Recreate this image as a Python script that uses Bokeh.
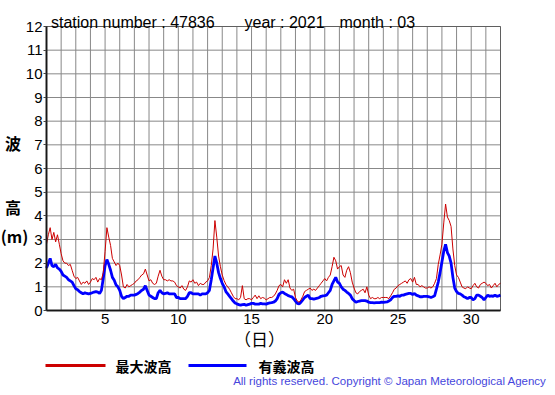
from bokeh.plotting import figure
from bokeh.models import Range1d, FixedTicker, Label, BoxAnnotation
from bokeh.embed import file_html
from bokeh.resources import INLINE

# 3-hourly samples, March 2021, from day 1.0 to day 32.0
steps_per_day = 8
max_wave = [
    2.8, 3.2, 3.5, 3.0, 3.3, 2.9, 3.2, 2.8,
    2.4, 2.1, 2.0, 2.0, 1.9, 1.95, 1.7, 1.45,
    1.35, 1.4, 1.25, 1.1, 1.2, 1.15, 1.25, 1.1,
    1.2, 1.35, 1.3, 1.4, 1.2, 1.35, 1.3, 1.6,
    2.5, 3.5, 3.1, 2.75, 2.2, 2.05, 1.9, 2.0,
    1.9, 1.5, 1.0, 0.95, 1.1, 1.0, 1.05, 1.1,
    1.15, 1.25, 1.3, 1.4, 1.5, 1.55, 1.75, 1.5,
    1.25, 1.3, 1.15, 1.1, 1.15, 1.45, 1.7, 1.45,
    1.3, 1.3, 1.25, 1.3, 1.25, 1.25, 1.2, 1.05,
    1.0, 0.95, 1.05, 0.9, 0.85, 1.0, 1.25, 1.2,
    1.3, 1.15, 1.2, 1.05, 1.15, 1.1, 1.1, 1.2,
    1.25, 1.4, 1.9, 2.6, 3.8, 3.1, 2.3, 1.85,
    1.5, 1.27, 1.1, 1.0, 0.9, 0.75, 0.6, 0.5,
    0.5, 0.45, 0.55, 1.05, 0.5, 0.45, 0.5, 0.5,
    0.45, 0.55, 0.65, 0.5, 0.62, 0.5, 0.55, 0.52,
    0.45, 0.5, 0.55, 0.55, 0.6, 0.7, 0.85, 1.05,
    1.1, 1.0, 1.3, 1.15, 1.3, 0.95, 0.85, 0.9,
    0.55, 0.4, 0.35, 0.45, 0.6, 0.8, 0.85, 0.9,
    0.95, 0.85, 0.9, 0.85, 0.95, 1.05, 1.15, 1.25,
    1.35, 1.25, 1.4, 1.5, 1.85, 2.25, 2.1, 1.75,
    1.85, 1.9, 1.5, 1.4, 1.7, 1.85, 1.6, 1.2,
    0.95, 0.75, 0.7, 0.8, 0.85, 0.9, 0.75, 1.0,
    0.65, 0.5, 0.55, 0.5, 0.5, 0.55, 0.5, 0.55,
    0.55, 0.55, 0.55, 0.5, 0.62, 0.75, 0.9, 0.95,
    1.05, 1.1, 1.15, 1.2, 1.25, 1.15, 1.3, 1.35,
    1.2, 1.4, 1.1, 1.1, 1.0, 1.05, 1.0, 0.95,
    0.95, 1.0, 0.95, 1.0, 1.15, 1.35, 1.95, 2.35,
    2.8, 3.7, 4.5, 3.95, 3.8, 3.55, 2.6, 1.9,
    1.5, 1.4, 1.2, 1.0, 0.95, 0.92, 1.0, 0.95,
    0.92, 1.05, 1.15, 1.0, 0.95, 1.1, 1.15, 1.2,
    1.15, 1.05, 1.1, 0.95, 1.05, 1.15, 1.0, 1.1,
    1.15,
]
sig_wave = [
    1.8, 2.0, 2.2, 1.9, 1.85, 1.95, 1.8, 1.75,
    1.65, 1.5, 1.45, 1.4, 1.3, 1.25, 1.2, 1.05,
    0.92, 0.88, 0.8, 0.75, 0.7, 0.75, 0.72, 0.7,
    0.72, 0.75, 0.78, 0.8, 0.78, 0.72, 0.85, 1.35,
    1.9, 2.15, 1.95, 1.7, 1.4, 1.28, 1.08, 1.0,
    0.85, 0.6, 0.5, 0.55, 0.6, 0.6, 0.65, 0.65,
    0.65, 0.68, 0.72, 0.78, 0.85, 0.9, 1.05, 0.85,
    0.65, 0.6, 0.55, 0.5, 0.5, 0.75, 0.85, 0.75,
    0.7, 0.72, 0.75, 0.7, 0.7, 0.7, 0.7, 0.55,
    0.55, 0.5, 0.5, 0.5, 0.5, 0.6, 0.75, 0.75,
    0.7, 0.7, 0.7, 0.7, 0.65, 0.7, 0.7, 0.7,
    0.75, 0.85, 1.3, 1.8, 2.3, 2.0, 1.6, 1.35,
    1.15, 1.0, 0.8, 0.7, 0.6, 0.5, 0.4, 0.32,
    0.28, 0.25, 0.22, 0.25, 0.26, 0.22, 0.25, 0.27,
    0.3, 0.3, 0.27, 0.27, 0.27, 0.3, 0.28, 0.28,
    0.27, 0.3, 0.32, 0.33, 0.35, 0.4, 0.5, 0.68,
    0.75, 0.78, 0.72, 0.68, 0.63, 0.6, 0.58, 0.5,
    0.4, 0.3, 0.28, 0.35, 0.45, 0.55, 0.6, 0.65,
    0.5, 0.5, 0.48, 0.5, 0.52, 0.55, 0.6, 0.62,
    0.63, 0.65, 0.75, 0.85, 1.1, 1.25, 1.4, 1.2,
    1.15, 1.0, 0.9, 0.85, 0.78, 0.72, 0.65, 0.5,
    0.42, 0.35, 0.38, 0.4, 0.42, 0.42, 0.42, 0.4,
    0.35, 0.33, 0.33, 0.32, 0.33, 0.33, 0.33, 0.35,
    0.34, 0.35, 0.36, 0.4, 0.45, 0.55, 0.6, 0.6,
    0.62, 0.6, 0.65, 0.65, 0.68, 0.7, 0.72, 0.72,
    0.68, 0.72, 0.65, 0.62, 0.58, 0.58, 0.6, 0.6,
    0.6, 0.58, 0.55, 0.58, 0.62, 0.9, 1.2, 1.6,
    2.05, 2.5, 2.8, 2.45, 2.3, 2.0, 1.4, 0.95,
    0.8, 0.72, 0.7, 0.65, 0.58, 0.55, 0.5, 0.55,
    0.55, 0.45, 0.5, 0.65, 0.65, 0.6, 0.55, 0.45,
    0.55, 0.65, 0.6, 0.62, 0.6, 0.65, 0.6, 0.62,
    0.65,
]
x_ticks = [5, 10, 15, 20, 25, 30]
y_ticks = list(range(0, 13))
day_grid = list(range(1, 33))
title_parts = ["station number : 47836", "year : 2021", "month : 03"]
legend_labels = ["最大波高", "有義波高"]
y_label_parts = ["波", "高", "(m)"]
x_label_text = "（日）"
copyright_text = "All rights reserved. Copyright © Japan Meteorological Agency"

times = [1 + i / steps_per_day for i in range(len(max_wave))]

RED = "#cc0000"
BLUE = "#0000ff"
SANS = "Liberation Sans"
CJK = "Noto Sans CJK JP"

# canvas geometry: the plotting frame covers the whole canvas, the chart box
# (day 1..32, 0..12 m) sits inside it, so captions are never clipped
W, H = 547, 387
BOX_L, BOX_R, BOX_T, BOX_B = 46, 500, 26, 310
X0, X1, Y0, Y1 = 1, 32, 0, 12
DX = (BOX_R - BOX_L) / (X1 - X0)
DY = (BOX_B - BOX_T) / (Y1 - Y0)


def dx(px):
    return X0 + (px - BOX_L) / DX


def dy(py):
    return Y0 + (BOX_B - py) / DY


p = figure(width=W, height=H, output_backend="svg", toolbar_location=None,
           x_range=Range1d(dx(0), dx(W)), y_range=Range1d(dy(H), dy(0)),
           min_border=0, min_border_left=0, min_border_right=0,
           min_border_top=0, min_border_bottom=0)
p.background_fill_color = "white"
p.border_fill_color = "white"
p.outline_line_color = None
p.xgrid.visible = False
p.ygrid.visible = False

# grid lines restricted to the chart box
p.segment(x0=day_grid, y0=[Y0] * len(day_grid), x1=day_grid,
          y1=[Y1] * len(day_grid), line_color="#888888", line_width=1)
p.segment(x0=[X0] * len(y_ticks), y0=y_ticks, x1=[X1] * len(y_ticks),
          y1=y_ticks, line_color="#888888", line_width=1)

# data
p.line(times, sig_wave, line_color=BLUE, line_width=2.8)
p.line(times, max_wave, line_color=RED, line_width=1)

# chart box outline
p.add_layout(BoxAnnotation(left=X0, right=X1, bottom=Y0, top=Y1,
                           fill_alpha=0, fill_color=None,
                           line_color="black", line_width=1))

# axes pinned to the chart box
xa = p.xaxis[0]
ya = p.yaxis[0]
xa.fixed_location = Y0
ya.fixed_location = X0
xa.bounds = (X0, X1)
ya.bounds = (Y0, Y1)
xa.ticker = FixedTicker(ticks=x_ticks)
ya.ticker = FixedTicker(ticks=y_ticks)
for ax in (xa, ya):
    ax.axis_line_color = "#222222"
    ax.axis_line_width = 2
    ax.major_label_text_font = SANS
    ax.major_label_text_font_size = "15px"
    ax.major_label_text_color = "black"
    ax.minor_tick_line_color = None
    ax.major_tick_in = 0
xa.major_tick_out = 0
xa.major_label_standoff = 3
ya.major_tick_out = 3
ya.major_tick_line_color = "#444444"
ya.major_label_standoff = 1

# title
for txt, px in zip(title_parts, [50.5, 244, 339]):
    p.add_layout(Label(x=dx(px), y=dy(22), text=txt, text_font=SANS,
                       text_font_size="16px", text_color="black",
                       text_align="left", text_baseline="alphabetic"))

# y caption, stacked characters
for txt, px, py in zip(y_label_parts, [12.5, 12.5, 14], [142.5, 206.5, 235.5]):
    p.add_layout(Label(x=dx(px), y=dy(py), text=txt, text_font=CJK,
                       text_font_size="16px", text_font_style="bold",
                       text_align="center", text_baseline="middle",
                       text_color="black"))

# x caption
p.add_layout(Label(x=dx(259), y=dy(338), text=x_label_text, text_font=CJK,
                   text_font_size="17px", text_align="center",
                   text_baseline="middle", text_color="black"))

# legend
p.segment(x0=[dx(45), dx(188)], y0=[dy(365)] * 2, x1=[dx(105), dx(246)],
          y1=[dy(365)] * 2, line_color=[RED, BLUE], line_width=3)
for txt, px in zip(legend_labels, [115, 258]):
    p.add_layout(Label(x=dx(px), y=dy(365), text=txt, text_font=CJK,
                       text_font_size="14px", text_font_style="bold",
                       text_align="left", text_baseline="middle",
                       text_color="black"))

# copyright
p.add_layout(Label(x=dx(546), y=dy(380.5), text=copyright_text, text_font=SANS,
                   text_font_size="11.5px", text_align="right",
                   text_baseline="middle", text_color="#4646dc"))

open("out.html", "w").write(file_html(p, INLINE))
